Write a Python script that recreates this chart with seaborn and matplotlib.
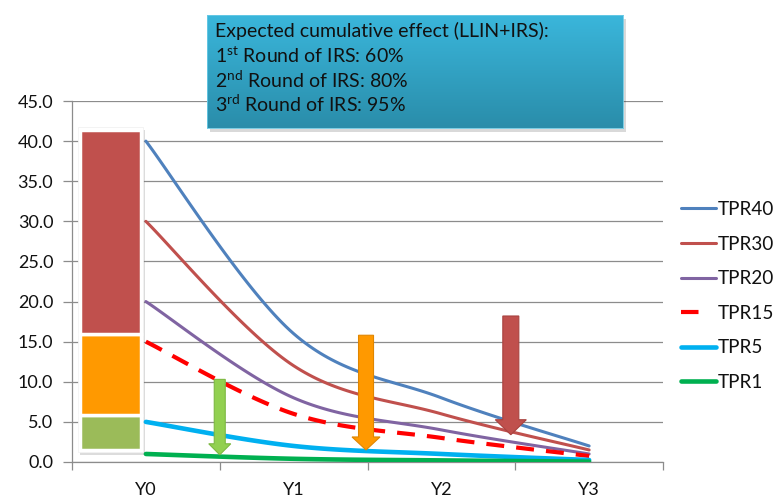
import numpy as np
import pandas as pd
import matplotlib
matplotlib.use("Agg")
import matplotlib.pyplot as plt
import seaborn as sns
from matplotlib.lines import Line2D
from matplotlib.patches import FancyArrow, Rectangle
import matplotlib.patheffects as pe

# ---- data -------------------------------------------------------------
years = ["Y0", "Y1", "Y2", "Y3"]
series_names = ["TPR40", "TPR30", "TPR20", "TPR15", "TPR5", "TPR1"]
tpr40 = [40, 16, 8, 2]
tpr30 = [30, 12, 6, 1.5]
tpr20 = [20, 8, 4, 1]
tpr15 = [15, 6, 3, 0.75]
tpr5 = [5, 2, 1, 0.25]
tpr1 = [1, 0.4, 0.2, 0.05]

# transmission bands stacked beside Y0 (lower, upper)
band_lower = [1.55, 5.8, 16.0]
band_upper = [5.8, 16.0, 41.35]

# IRS round arrows: x position (between years), start level, end level
arrow_x = [0.5, 1.49, 2.47]
arrow_from = [10.3, 15.8, 18.2]
arrow_to = [0.9, 1.5, 3.4]

box_lines = [
    "Expected cumulative effect (LLIN+IRS):",
    "1$^{\\mathrm{st}}$ Round of IRS: 60%",
    "2$^{\\mathrm{nd}}$ Round of IRS: 80%",
    "3$^{\\mathrm{rd}}$ Round of IRS: 95%",
]

# ---- styling ----------------------------------------------------------
sns.set_theme(style="white")
plt.rcParams["font.family"] = ["Lato", "DejaVu Sans"]
plt.rcParams["mathtext.fontset"] = "custom"
plt.rcParams["mathtext.rm"] = "Lato"
plt.rcParams["mathtext.it"] = "Lato:italic"
plt.rcParams["mathtext.bf"] = "Lato:bold"

colors = {"TPR40": "#4F81BD", "TPR30": "#C0504D", "TPR20": "#8064A2",
          "TPR15": "#FF0000", "TPR5": "#00B0F0", "TPR1": "#00B050"}
widths = {"TPR40": 2.2, "TPR30": 2.2, "TPR20": 2.2,
          "TPR15": 3.0, "TPR5": 3.3, "TPR1": 3.3}
dash_map = {"TPR40": "", "TPR30": "", "TPR20": "",
            "TPR15": (4.3, 2.9), "TPR5": "", "TPR1": ""}
band_colors = ["#9BBB59", "#FF9900", "#C0504D"]
arrow_face = ["#92D050", "#FF9900", "#C0504D"]
arrow_edge = ["#7DB842", "#E08600", "#A8423F"]
arrow_shaft_px = [11, 15, 16]
arrow_head_px = [22, 28, 31]
arrow_headlen_px = [11, 13, 15]
grid_c = "#8C8C8C"
text_c = "#111111"


def smoothed(xs, ys, n=40):
    """Excel-style smoothed line: cubic Bezier segments through the points."""
    pts = np.column_stack([xs, ys]).astype(float)
    ext = np.vstack([pts[0], pts, pts[-1]])
    t = np.linspace(0, 1, n)[:, None]
    out = []
    for i in range(len(pts) - 1):
        p0, p1, p2, p3 = ext[i], ext[i + 1], ext[i + 2], ext[i + 3]
        c1 = p1 + (p2 - p0) / 6.0
        c2 = p2 - (p3 - p1) / 6.0
        seg = ((1 - t) ** 3) * p1 + 3 * ((1 - t) ** 2) * t * c1 \
            + 3 * (1 - t) * t ** 2 * c2 + t ** 3 * p2
        out.append(seg if i == 0 else seg[1:])
    return np.vstack(out)


values = dict(zip(series_names, [tpr40, tpr30, tpr20, tpr15, tpr5, tpr1]))
xpos = np.arange(len(years))
frames = []
for name in series_names:
    curve = smoothed(xpos, values[name])
    frames.append(pd.DataFrame({"x": curve[:, 0], "y": curve[:, 1],
                                "series": name}))
df = pd.concat(frames, ignore_index=True)

# ---- figure -----------------------------------------------------------
W, H = 774, 497
fig = plt.figure(figsize=(W / 100, H / 100), dpi=100)
ax = fig.add_axes([72 / W, 1 - 462 / H, (663 - 72) / W, (462 - 101) / H])

ax.set_xlim(-0.5, 3.5)
ax.set_ylim(0, 45)
ax.set_yticks(np.arange(0, 46, 5))
ax.set_yticklabels([f"{v:.1f}" for v in np.arange(0, 46, 5)])
ax.yaxis.grid(True, color=grid_c, linewidth=0.9)
ax.set_axisbelow(True)
for s in ["top", "right"]:
    ax.spines[s].set_visible(False)
for s in ["left", "bottom"]:
    ax.spines[s].set_color(grid_c)
    ax.spines[s].set_linewidth(0.9)

# category boundaries carry tick marks, centres carry the labels
ax.set_xticks([-0.5, 0.5, 1.5, 2.5, 3.5])
ax.set_xticklabels([])
ax.set_xticks(xpos, minor=True)
ax.set_xticklabels(years, minor=True)
ax.tick_params(axis="x", which="major", length=6, width=0.9, color=grid_c,
               direction="out", bottom=True)
ax.tick_params(axis="x", which="minor", length=0, pad=14.5, labelsize=13,
               labelcolor=text_c)
ax.tick_params(axis="y", length=6.5, width=0.9, color=grid_c, direction="out",
               left=True, pad=7, labelsize=13, labelcolor=text_c)

# white framed, shadowed column of bands next to Y0
frame = Rectangle((-0.46, 1.25), 0.44, 40.45, facecolor="white",
                  edgecolor="#EEEEEE", linewidth=0.5, zorder=2)
frame.set_path_effects([pe.SimplePatchShadow(offset=(1.5, -2), alpha=0.25,
                                             shadow_rgbFace="#777777"),
                        pe.Normal()])
ax.add_patch(frame)
ax.bar([-0.24] * 3, np.subtract(band_upper, band_lower), bottom=band_lower,
       width=0.41, color=band_colors, edgecolor="white", linewidth=2.5,
       zorder=3)

# smoothed TPR curves
sns.lineplot(data=df, x="x", y="y", hue="series", style="series",
             size="series", hue_order=series_names, style_order=series_names,
             size_order=series_names, palette=colors, dashes=dash_map,
             sizes=widths, sort=False, estimator=None, legend=False, ax=ax,
             zorder=4)
ax.set_xlabel("")
ax.set_ylabel("")

# IRS arrows
px_x = (663 - 72) / 4.0
px_y = (462 - 101) / 45.0
for i in range(3):
    arr = FancyArrow(arrow_x[i], arrow_from[i], 0,
                     arrow_to[i] - arrow_from[i],
                     width=arrow_shaft_px[i] / px_x,
                     head_width=arrow_head_px[i] / px_x,
                     head_length=arrow_headlen_px[i] / px_y,
                     length_includes_head=True,
                     facecolor=arrow_face[i], edgecolor=arrow_edge[i],
                     linewidth=0.8, zorder=6)
    ax.add_patch(arr)

# legend (the dashed entry shows a single dash)
handles = []
for n in series_names:
    ls = (0, (4.2, 10)) if dash_map[n] else "-"
    handles.append(Line2D([], [], color=colors[n], linewidth=widths[n],
                          linestyle=ls))
ax.legend(handles, series_names, loc="upper left",
          bbox_to_anchor=(681 / W, 1 - 201 / H), bbox_transform=fig.transFigure,
          frameon=False, borderpad=0, borderaxespad=0, handlelength=1.85,
          handletextpad=0.1, labelspacing=0.93, fontsize=13.6,
          labelcolor=text_c)

# gradient annotation box with a soft drop shadow, drawn above the chart
bx0, by0, bx1, by1 = 207, 15, 623, 128
shadow = Rectangle(((bx0 + 3) / W, 1 - (by1 + 4) / H), (bx1 - bx0) / W,
                   (by1 - by0) / H, transform=fig.transFigure,
                   facecolor="#000000", alpha=0.15, edgecolor="none",
                   zorder=1)
fig.patches.append(shadow)
bax = fig.add_axes([bx0 / W, 1 - by1 / H, (bx1 - bx0) / W, (by1 - by0) / H])
bax.set_zorder(2)
top_c = np.array(matplotlib.colors.to_rgb("#3AB6DB"))
bot_c = np.array(matplotlib.colors.to_rgb("#2A8DAA"))
tt = np.linspace(0, 1, 100)[:, None, None]
grad = top_c * (1 - tt) + bot_c * tt
bax.imshow(grad, aspect="auto", extent=(0, 1, 0, 1), interpolation="bilinear")
bax.set_xticks([])
bax.set_yticks([])
for s in bax.spines.values():
    s.set_color("#6CCBE6")
    s.set_linewidth(0.6)

baselines = [37, 63, 88, 112]
for txt, yb in zip(box_lines, baselines):
    fig.text(215 / W, 1 - yb / H, txt, fontsize=14, color=text_c,
             va="baseline", ha="left", zorder=5)

fig.savefig("out.png", dpi=100)
